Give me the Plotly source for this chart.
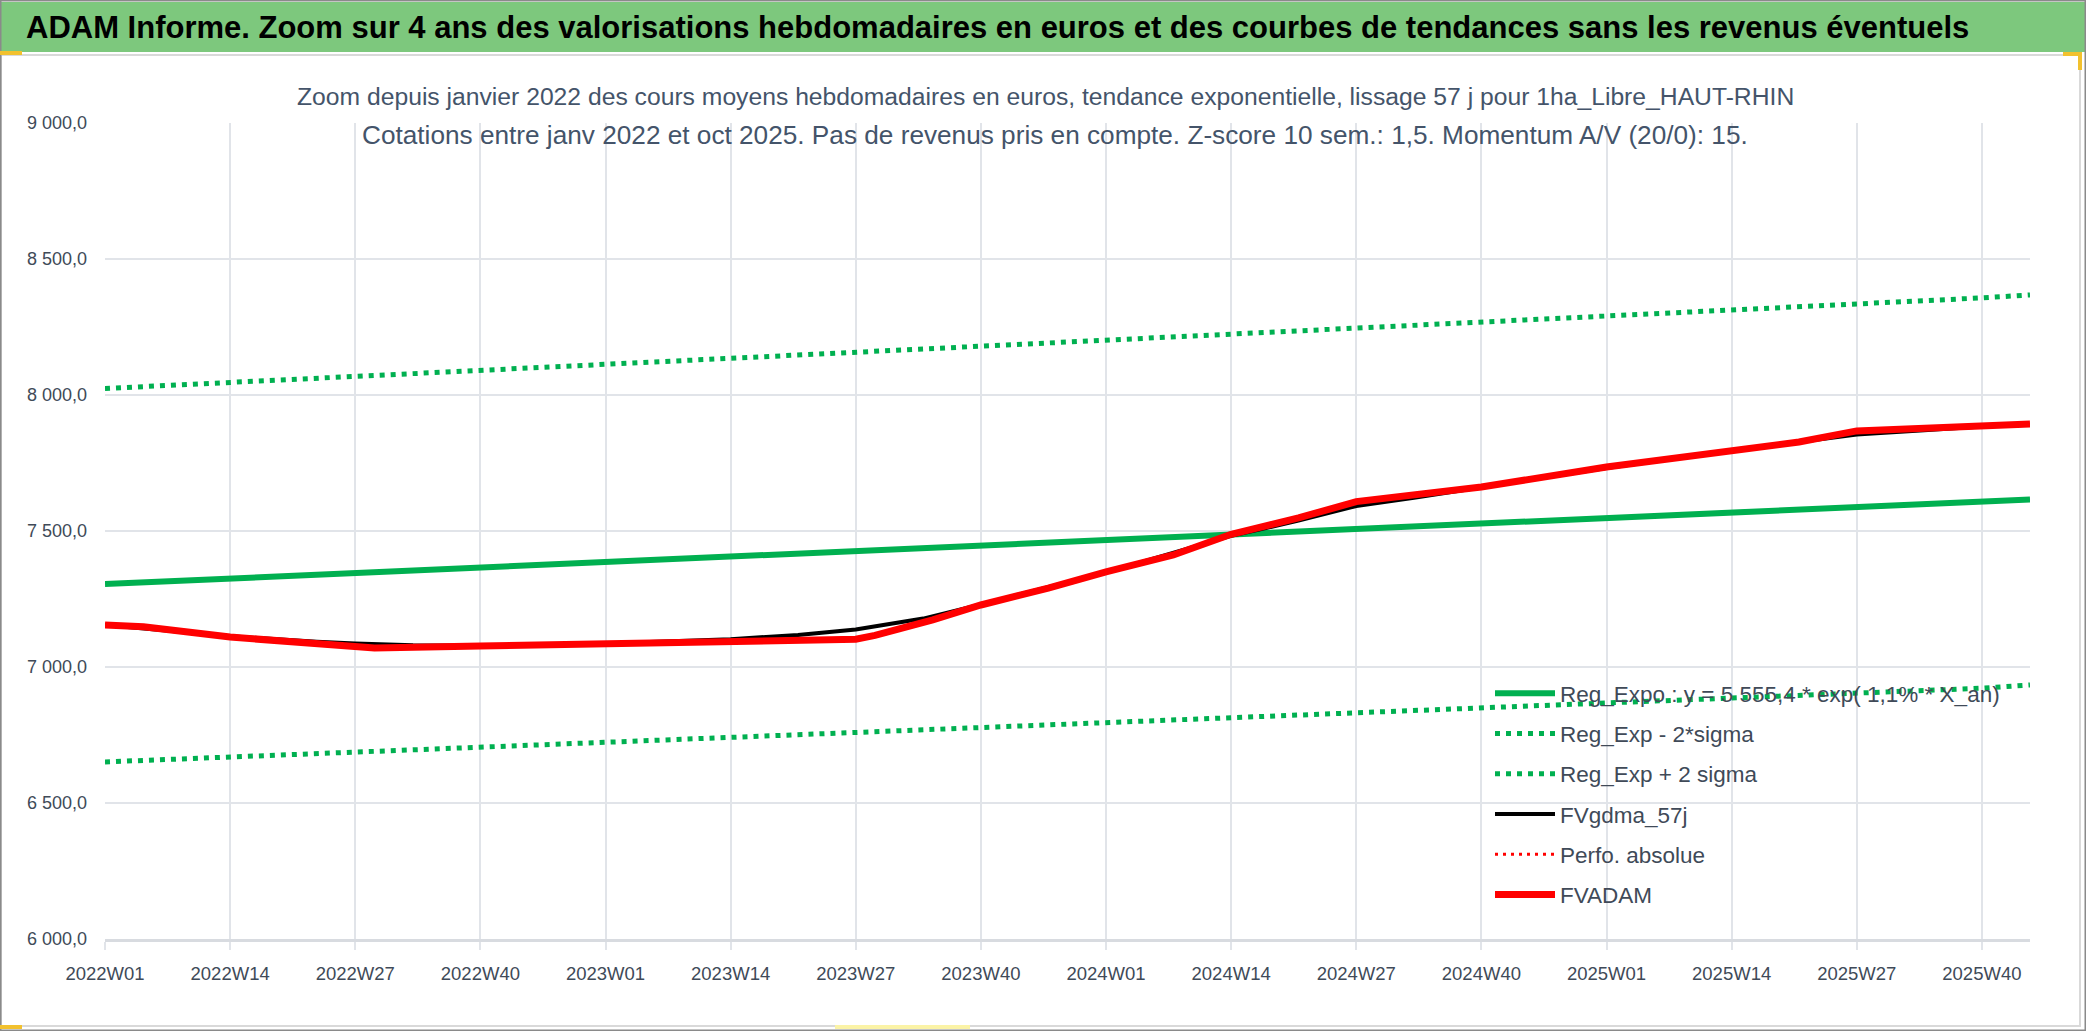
import plotly.graph_objects as go

# ---------------- data ----------------
years_weeks = [(2022, 52), (2023, 52), (2024, 52), (2025, 45)]
weeks = [f"{y}W{w:02d}" for y, n in years_weeks for w in range(1, n + 1)]

tick_labels = ["2022W01", "2022W14", "2022W27", "2022W40",
               "2023W01", "2023W14", "2023W27", "2023W40",
               "2024W01", "2024W14", "2024W27", "2024W40",
               "2025W01", "2025W14", "2025W27", "2025W40"]

trend_weeks = tick_labels + ["2025W45"]
reg_expo = [7305, 7325, 7345, 7364, 7384, 7404, 7424, 7444, 7464,
            7485, 7505, 7525, 7546, 7566, 7587, 7607, 7616]
reg_minus = [6651, 6669, 6686, 6704, 6722, 6740, 6758, 6776, 6794,
             6812, 6830, 6849, 6867, 6885, 6904, 6922, 6934]
reg_plus = [8024, 8046, 8068, 8090, 8112, 8134, 8156, 8178, 8200,
            8222, 8245, 8267, 8290, 8312, 8335, 8357, 8368]

gdma_weeks = ["2022W01", "2022W14", "2022W23", "2022W27", "2022W33", "2022W40",
              "2023W01", "2023W14", "2023W21", "2023W27", "2023W34", "2023W40",
              "2024W01", "2024W14", "2024W21", "2024W27", "2024W33", "2024W40",
              "2025W01", "2025W14", "2025W27", "2025W34", "2025W40", "2025W45"]
gdma_vals = [7154, 7113, 7093, 7086, 7080, 7079,
             7086, 7102, 7118, 7138, 7178, 7230,
             7348, 7482, 7538, 7592, 7622, 7660,
             7732, 7795, 7855, 7870, 7884, 7891]

adam_weeks = ["2022W01", "2022W05", "2022W14", "2022W27", "2022W29", "2022W40",
              "2023W01", "2023W14", "2023W27", "2023W29", "2023W35", "2023W40",
              "2023W47", "2024W01", "2024W08", "2024W14", "2024W21", "2024W27",
              "2024W32", "2024W40", "2025W01", "2025W14", "2025W21", "2025W27",
              "2025W40", "2025W45"]
adam_vals = [7154, 7148, 7110, 7074, 7070, 7077,
             7085, 7093, 7102, 7116, 7173, 7228,
             7290, 7350, 7412, 7488, 7548, 7608,
             7627, 7662, 7735, 7798, 7827, 7868,
             7886, 7893]

title_text = ("ADAM Informe. Zoom sur 4 ans des valorisations hebdomadaires en euros "
              "et des courbes de tendances sans les revenus éventuels")
sub1 = ("Zoom depuis janvier 2022 des cours moyens hebdomadaires en euros, tendance "
        "exponentielle, lissage 57 j pour 1ha_Libre_HAUT-RHIN")
sub2 = ("Cotations entre janv 2022 et oct 2025. Pas de revenus pris en compte. "
        "Z-score 10 sem.: 1,5. Momentum A/V (20/0): 15.")

# ---------------- layout helpers ----------------
W, H = 2086, 1031
L, R, T, B = 105, 2030, 123, 939


def px(x):
    return (x - L) / (R - L)


def py(y):
    return (B - y) / (B - T)


FONT = "Liberation Sans"
GREEN = "#00b050"
TXT = "#404a58"
GRID = "#e1e4e9"
DOT = "5px,6px"

fig = go.Figure()
fig.add_trace(go.Scatter(x=trend_weeks, y=reg_expo, mode="lines", legendgroup="a",
                         name="Reg_Expo : y = 5 555,4 * exp( 1,1% * X_an)",
                         line=dict(color=GREEN, width=6)))
fig.add_trace(go.Scatter(x=trend_weeks, y=reg_minus, mode="lines", legendgroup="b",
                         name="Reg_Exp - 2*sigma",
                         line=dict(color=GREEN, width=5, dash=DOT)))
fig.add_trace(go.Scatter(x=trend_weeks, y=reg_plus, mode="lines", legendgroup="c",
                         name="Reg_Exp + 2 sigma",
                         line=dict(color=GREEN, width=5, dash=DOT)))
fig.add_trace(go.Scatter(x=gdma_weeks, y=gdma_vals, mode="lines", legendgroup="d",
                         name="FVgdma_57j", line=dict(color="black", width=4)))
fig.add_trace(go.Scatter(x=[weeks[0]], y=[None], mode="lines", legendgroup="e",
                         name="Perfo. absolue",
                         line=dict(color="#ff0000", width=3, dash="3px,5px")))
fig.add_trace(go.Scatter(x=adam_weeks, y=adam_vals, mode="lines", legendgroup="f",
                         name="FVADAM", line=dict(color="#ff0000", width=7)))

shapes = [
    dict(type="rect", xref="paper", yref="paper", x0=px(1), x1=px(2085), y0=py(2), y1=py(52),
         fillcolor="#7dc87d", line=dict(width=0), layer="below"),
    dict(type="rect", xref="paper", yref="paper", x0=px(1), x1=px(2080), y0=py(55), y1=py(1026),
         fillcolor="rgba(0,0,0,0)", line=dict(color="#d9d9d9", width=2)),
    dict(type="rect", xref="paper", yref="paper", x0=px(0.5), x1=px(2085.5), y0=py(0.5), y1=py(1030.5),
         fillcolor="rgba(0,0,0,0)", line=dict(color="#8a8a8a", width=2)),
    dict(type="rect", xref="paper", yref="paper", x0=px(277), x1=px(1805), y0=py(68), y1=py(157),
         fillcolor="white", line=dict(width=0), layer="between"),
    dict(type="rect", xref="paper", yref="paper", x0=px(0), x1=px(22), y0=py(51), y1=py(55),
         fillcolor="#f2c12e", line=dict(width=0)),
    dict(type="rect", xref="paper", yref="paper", x0=px(2063), x1=px(2082), y0=py(52), y1=py(56),
         fillcolor="#f2c12e", line=dict(width=0)),
    dict(type="rect", xref="paper", yref="paper", x0=px(2078), x1=px(2082), y0=py(52), y1=py(70),
         fillcolor="#f2c12e", line=dict(width=0)),
    dict(type="rect", xref="paper", yref="paper", x0=px(0), x1=px(22), y0=py(1025), y1=py(1029),
         fillcolor="#f2c12e", line=dict(width=0)),
    dict(type="rect", xref="paper", yref="paper", x0=px(835), x1=px(970), y0=py(1025), y1=py(1029),
         fillcolor="#fbf3a6", line=dict(width=0)),
]

annotations = [
    dict(text=title_text, xref="paper", yref="paper", x=px(24), y=py(28),
         xanchor="left", yanchor="middle", showarrow=False,
         font=dict(family=FONT, size=31, color="black", weight="bold")),
    dict(text=sub1, xref="paper", yref="paper", x=px(1045), y=py(97),
         xanchor="center", yanchor="middle", showarrow=False,
         font=dict(family=FONT, size=24.7, color="#44546a")),
    dict(text=sub2, xref="paper", yref="paper", x=px(1055), y=py(135),
         xanchor="center", yanchor="middle", showarrow=False,
         font=dict(family=FONT, size=26.2, color="#44546a")),
]

fig.update_layout(
    width=W, height=H,
    margin=dict(l=L, r=W - R, t=T, b=H - B, autoexpand=False),
    paper_bgcolor="white", plot_bgcolor="white",
    separators=", ",
    shapes=shapes, annotations=annotations,
    legend=dict(x=px(1490), y=py(672), xanchor="left", yanchor="top",
                bgcolor="rgba(0,0,0,0)", itemwidth=60, tracegroupgap=8,
                font=dict(family=FONT, size=22.5, color=TXT)),
    xaxis=dict(type="category", categoryorder="array", categoryarray=weeks,
               range=[0, len(weeks) - 1], tickmode="array",
               tickvals=tick_labels, ticktext=tick_labels,
               showgrid=True, gridcolor=GRID, gridwidth=2,
               ticks="outside", ticklen=8, tickwidth=2, tickcolor=GRID,
               showline=True, linecolor="#d8dbe0", linewidth=3,
               ticklabelstandoff=8, zeroline=False,
               tickfont=dict(family=FONT, size=18.5, color=TXT)),
    yaxis=dict(range=[6000, 9000], tick0=6000, dtick=500, tickformat=",.1f",
               showgrid=True, gridcolor=GRID, gridwidth=2, zeroline=False,
               showline=False, ticks="", ticklabelstandoff=17,
               tickfont=dict(family=FONT, size=18, color=TXT)),
)

fig.write_html("out.html", config={"displayModeBar": False},
               post_script="document.body.style.margin='0px';")
